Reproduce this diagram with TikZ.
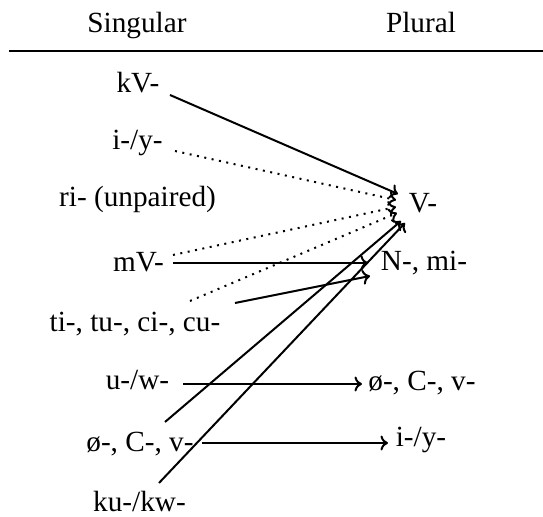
\documentclass[tikz,border=0pt]{standalone}
\usepackage{fontspec}
\setmainfont{Liberation Serif}
\usetikzlibrary{calc,arrows.meta}
\tikzset{
  lbl/.style={inner sep=0pt, anchor=base, font=\fontsize{11.7}{13}\selectfont},
  arr/.style={line width=0.8pt, -{To[length=3pt,width=6pt]}},
  darr/.style={arr, dash pattern=on 0.8pt off 2.2pt},
}
\begin{document}
\begin{tikzpicture}[x=0.4pt,y=-0.4pt]
\useasboundingbox (0,0) rectangle (543,517);
% headers
\node[lbl] (S) at (137,33) {Singular};
\node[lbl] (P) at (421,33) {Plural};
\coordinate (rl) at (9,51);
\coordinate (rr) at (543,51);
\draw[line width=0.9pt] (rl) -- (rr);
% left column
\node[lbl] (kV) at (138,93) {kV-};
\node[lbl] (iy) at (137.5,150) {i-/y-};
\node[lbl] (ri) at (137.5,207) {ri- (unpaired)};
\node[lbl] (mV) at (138.5,272) {mV-};
\node[lbl] (ti) at (135,332) {ti-, tu-, ci-, cu-};
\node[lbl] (uw) at (137.5,390) {u-/w-};
\node[lbl] (oCv) at (140,452) {ø-, C-, v-};
\node[lbl] (ku) at (139.5,512) {ku-/kw-};
% right column
\node[lbl] (V) at (423,213) {V-};
\node[lbl] (N) at (424,271) {N-, mi-};
\node[lbl] (oCvR) at (422,391) {ø-, C-, v-};
\node[lbl] (iyR) at (421,447) {i-/y-};
% connectors
\draw[arr]  ($(kV.base)+(32,2)$) -- ($(V.base)+(-25,-19)$);
\draw[darr] ($(iy.base)+(37.5,1)$) -- ($(V.base)+(-27,-13)$);
\draw[darr] ($(mV.base)+(34.5,-17)$) -- ($(V.base)+(-27,-6)$);
\draw[darr] ($(ti.base)+(55,-31)$) -- ($(V.base)+(-26,0)$);
\draw[arr]  ($(mV.base)+(34.5,-9)$) -- ($(N.base)+(-56,-8)$);
\draw[arr]  ($(ti.base)+(100,-29)$) -- ($(N.base)+(-54,5)$);
\draw[arr]  ($(uw.base)+(45.5,-6)$) -- ($(oCvR.base)+(-60,-7)$);
\draw[arr]  ($(oCv.base)+(25,-30)$) -- ($(V.base)+(-22,8)$);
\draw[arr]  ($(oCv.base)+(62,-9)$) -- ($(iyR.base)+(-33,-4)$);
\draw[arr]  ($(ku.base)+(19.5,-29)$) -- ($(V.base)+(-18,10)$);
\end{tikzpicture}
\end{document}
